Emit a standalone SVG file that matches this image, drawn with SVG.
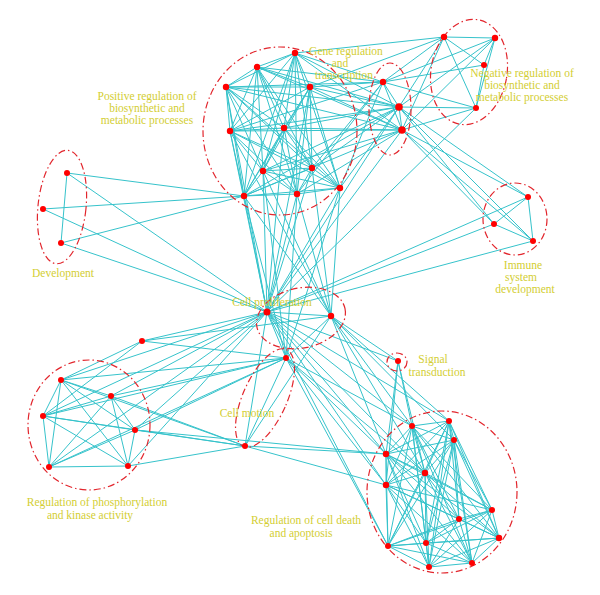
<svg xmlns="http://www.w3.org/2000/svg" width="600" height="595" viewBox="0 0 600 595">
<style>
.bg{fill:#fff}
#edges path{stroke:#36c3cb;stroke-width:1;fill:none}
.grp{fill:none;stroke:#e2262d;stroke-width:1.2;stroke-dasharray:7 3 1.5 3}
.n{fill:#f00}
.lb{font-family:"Liberation Serif","Times New Roman",serif;font-size:11.5px;fill:#d3ce32;text-anchor:middle}
</style>
<rect class="bg" width="600" height="595"/>
<g id="edges">
<path d="M295 53L257 67M295 53L226 87M295 53L310 87M295 53L230 131M295 53L284 128M295 53L263 171M295 53L312 168M295 53L340 188M295 53L244 196M295 53L297 194"/>
<path d="M257 67L226 87M257 67L310 87M257 67L230 131M257 67L284 128M257 67L263 171M257 67L312 168M257 67L340 188M257 67L244 196M257 67L297 194"/>
<path d="M226 87L310 87M226 87L230 131M226 87L284 128M226 87L263 171M226 87L312 168M226 87L340 188M226 87L244 196M226 87L297 194"/>
<path d="M310 87L230 131M310 87L284 128M310 87L263 171M310 87L312 168M310 87L340 188M310 87L244 196M310 87L297 194"/>
<path d="M230 131L284 128M230 131L263 171M230 131L312 168M230 131L340 188M230 131L244 196M230 131L297 194"/>
<path d="M284 128L263 171M284 128L312 168M284 128L340 188M284 128L244 196M284 128L297 194"/>
<path d="M263 171L312 168M263 171L340 188M263 171L244 196M263 171L297 194M312 168L340 188M312 168L244 196M312 168L297 194M340 188L244 196M340 188L297 194M244 196L297 194"/>
<path d="M295 53L383 82M295 53L399 107M295 53L402 130M257 67L383 82M257 67L399 107M257 67L402 130M226 87L383 82M226 87L399 107M226 87L402 130"/>
<path d="M310 87L383 82M310 87L399 107M310 87L402 130M230 131L383 82M230 131L399 107M230 131L402 130M284 128L399 107M284 128L402 130"/>
<path d="M263 171L399 107M263 171L402 130M312 168L383 82M312 168L399 107M340 188L383 82M340 188L399 107M244 196L399 107M244 196L402 130M297 194L383 82M297 194L402 130"/>
<path d="M383 82L399 107M383 82L402 130M399 107L402 130"/>
<path d="M383 82L444 37M383 82L495 38M383 82L484 65M383 82L476 108M399 107L444 37M399 107L495 38M399 107L476 108M402 130L444 37M402 130L495 38M402 130L476 108"/>
<path d="M444 37L495 38M444 37L484 65M444 37L476 108M495 38L484 65M495 38L476 108M484 65L476 108M295 53L444 37M310 87L444 37"/>
<path d="M399 107L528 197M402 130L528 197M399 107L533 241M402 130L533 241M399 107L494 224M402 130L494 224"/>
<path d="M528 197L494 224M528 197L533 241M494 224L533 241M528 197L267 312M494 224L267 312M533 241L267 312M267 312L476 108"/>
<path d="M67 173L61 243M67 173L244 196M43 209L244 196M61 243L244 196M67 173L267 312M43 209L267 312M61 243L267 312"/>
<path d="M244 196L267 312M244 196L331 316M244 196L286 358M297 194L267 312M297 194L331 316M297 194L286 358M340 188L267 312M340 188L286 358M263 171L267 312M263 171L331 316M263 171L286 358"/>
<path d="M312 168L267 312M312 168L331 316M230 131L267 312M284 128L267 312M226 87L267 312M310 87L267 312M402 130L267 312M399 107L267 312M230 131L331 316M340 188L331 316"/>
<path d="M267 312L331 316M267 312L286 358M331 316L286 358"/>
<path d="M267 312L412 426M267 312L386 454M267 312L425 473M267 312L386 485M267 312L388 546M286 358L386 454M286 358L425 473M286 358L386 485M286 358L412 426M331 316L412 426M331 316L449 421M331 316L454 440M331 316L386 454M331 316L425 473M267 312L449 421M286 358L388 546"/>
<path d="M398 361L412 426M398 361L386 454M398 361L425 473M398 361L386 485M398 361L267 312M398 361L331 316"/>
<path d="M61 380L111 396M61 380L43 416M61 380L135 430M61 380L49 467M61 380L128 466M111 396L43 416M111 396L135 430M111 396L49 467M111 396L128 466M43 416L135 430M43 416L49 467M43 416L128 466M135 430L49 467M135 430L128 466M49 467L128 466"/>
<path d="M142 341L43 416M142 341L61 380M142 341L267 312M142 341L331 316M142 341L286 358"/>
<path d="M61 380L267 312M61 380L245 446M111 396L245 446M111 396L267 312M111 396L286 358M43 416L267 312M43 416L286 358M43 416L245 446M135 430L245 446M135 430L286 358M135 430L267 312M49 467L267 312M49 467L286 358M128 466L267 312M128 466L245 446M135 430L386 454M61 380L286 358"/>
<path d="M245 446L267 312M245 446L286 358M245 446L331 316M245 446L386 454M245 446L386 485"/>
<path d="M412 426L449 421M412 426L454 440M412 426L386 454M412 426L425 473M412 426L386 485M412 426L492 510M412 426L459 519M412 426L499 538M412 426L388 546M412 426L426 543M412 426L429 567M412 426L472 563"/>
<path d="M449 421L454 440M449 421L386 454M449 421L425 473M449 421L386 485M449 421L492 510M449 421L459 519M449 421L499 538M449 421L388 546M449 421L426 543M449 421L429 567M449 421L472 563"/>
<path d="M454 440L386 454M454 440L425 473M454 440L386 485M454 440L492 510M454 440L459 519M454 440L499 538M454 440L388 546M454 440L426 543M454 440L429 567M454 440L472 563"/>
<path d="M386 454L425 473M386 454L386 485M386 454L492 510M386 454L459 519M386 454L499 538M386 454L388 546M386 454L426 543M386 454L429 567M386 454L472 563"/>
<path d="M425 473L386 485M425 473L492 510M425 473L459 519M425 473L499 538M425 473L388 546M425 473L426 543M425 473L429 567M425 473L472 563"/>
<path d="M386 485L492 510M386 485L459 519M386 485L499 538M386 485L388 546M386 485L426 543M386 485L429 567M386 485L472 563"/>
<path d="M492 510L459 519M492 510L499 538M492 510L388 546M492 510L426 543M492 510L429 567M492 510L472 563M459 519L499 538M459 519L388 546M459 519L426 543M459 519L429 567M459 519L472 563"/>
<path d="M499 538L388 546M499 538L426 543M499 538L429 567M499 538L472 563M388 546L426 543M388 546L429 567M388 546L472 563M426 543L429 567M426 543L472 563M429 567L472 563"/>
</g>
<g id="group-outlines">
<ellipse class="grp" cx="280" cy="131" rx="77" ry="84"/>
<ellipse class="grp" cx="390" cy="109" rx="21" ry="46"/>
<ellipse class="grp" cx="469" cy="72" rx="38" ry="53" transform="rotate(10 469 72)"/>
<ellipse class="grp" cx="62" cy="207" rx="24" ry="57" transform="rotate(6 62 207)"/>
<ellipse class="grp" cx="515" cy="219" rx="32" ry="36"/>
<ellipse class="grp" cx="301" cy="318" rx="45" ry="30" transform="rotate(-12 301 318)"/>
<ellipse class="grp" cx="265" cy="398" rx="22" ry="53" transform="rotate(24 265 398)"/>
<ellipse class="grp" cx="397" cy="362" rx="10" ry="9"/>
<ellipse class="grp" cx="89" cy="425" rx="61" ry="65"/>
<ellipse class="grp" cx="442" cy="492" rx="75" ry="81"/>
</g>
<g id="nodes">
<g id="positive-regulation"><circle class="n" cx="295" cy="53" r="3.2"/><circle class="n" cx="257" cy="67" r="3.2"/><circle class="n" cx="226" cy="87" r="3.2"/><circle class="n" cx="310" cy="87" r="3.2"/><circle class="n" cx="230" cy="131" r="3.2"/><circle class="n" cx="284" cy="128" r="3.2"/><circle class="n" cx="263" cy="171" r="3.2"/><circle class="n" cx="312" cy="168" r="3.2"/><circle class="n" cx="340" cy="188" r="3.2"/><circle class="n" cx="244" cy="196" r="3.2"/><circle class="n" cx="297" cy="194" r="3.2"/></g>
<g id="gene-regulation"><circle class="n" cx="383" cy="82" r="3.2"/><circle class="n" cx="399" cy="107" r="3.8"/><circle class="n" cx="402" cy="130" r="3.8"/></g>
<g id="negative-regulation"><circle class="n" cx="444" cy="37" r="3.2"/><circle class="n" cx="495" cy="38" r="3.2"/><circle class="n" cx="484" cy="65" r="3"/><circle class="n" cx="476" cy="108" r="3"/></g>
<g id="development"><circle class="n" cx="67" cy="173" r="3"/><circle class="n" cx="43" cy="209" r="3"/><circle class="n" cx="61" cy="243" r="3"/></g>
<g id="immune"><circle class="n" cx="528" cy="197" r="3"/><circle class="n" cx="494" cy="224" r="3"/><circle class="n" cx="533" cy="241" r="3"/></g>
<g id="cell-proliferation"><circle class="n" cx="267" cy="312" r="3.5"/><circle class="n" cx="331" cy="316" r="3.2"/><circle class="n" cx="286" cy="358" r="3"/></g>
<g id="cell-motion"><circle class="n" cx="245" cy="446" r="3"/></g>
<g id="signal"><circle class="n" cx="398" cy="361" r="3"/></g>
<g id="phosphorylation"><circle class="n" cx="142" cy="341" r="3"/><circle class="n" cx="61" cy="380" r="3"/><circle class="n" cx="111" cy="396" r="3"/><circle class="n" cx="43" cy="416" r="3"/><circle class="n" cx="135" cy="430" r="3"/><circle class="n" cx="49" cy="467" r="3"/><circle class="n" cx="128" cy="466" r="3"/></g>
<g id="apoptosis"><circle class="n" cx="412" cy="426" r="3"/><circle class="n" cx="449" cy="421" r="3"/><circle class="n" cx="454" cy="440" r="3"/><circle class="n" cx="386" cy="454" r="3.2"/><circle class="n" cx="425" cy="473" r="3.2"/><circle class="n" cx="386" cy="485" r="3.2"/><circle class="n" cx="492" cy="510" r="3"/><circle class="n" cx="459" cy="519" r="3"/><circle class="n" cx="499" cy="538" r="3.2"/><circle class="n" cx="388" cy="546" r="3"/><circle class="n" cx="426" cy="543" r="3"/><circle class="n" cx="429" cy="567" r="3"/><circle class="n" cx="472" cy="563" r="3"/></g>
</g>
<g id="labels">
<text class="lb" x="147" y="100">Positive regulation of</text>
<text class="lb" x="147" y="112">biosynthetic and</text>
<text class="lb" x="147" y="124">metabolic processes</text>
<text class="lb" x="346" y="55">Gene regulation</text>
<text class="lb" x="340" y="67">and</text>
<text class="lb" x="344" y="79">transcription</text>
<text class="lb" x="522" y="77">Negative regulation of</text>
<text class="lb" x="522" y="89">biosynthetic and</text>
<text class="lb" x="522" y="101">metabolic processes</text>
<text class="lb" x="63" y="277">Development</text>
<text class="lb" x="523" y="269">Immune</text>
<text class="lb" x="521" y="281">system</text>
<text class="lb" x="525" y="293">development</text>
<text class="lb" x="272" y="306">Cell proliferation</text>
<text class="lb" x="433" y="363">Signal</text>
<text class="lb" x="437" y="376">transduction</text>
<text class="lb" x="247" y="417">Cell motion</text>
<text class="lb" x="97" y="506">Regulation of phosphorylation</text>
<text class="lb" x="90" y="519">and kinase activity</text>
<text class="lb" x="306" y="524">Regulation of cell death</text>
<text class="lb" x="301" y="537">and apoptosis</text>
</g>
</svg>
